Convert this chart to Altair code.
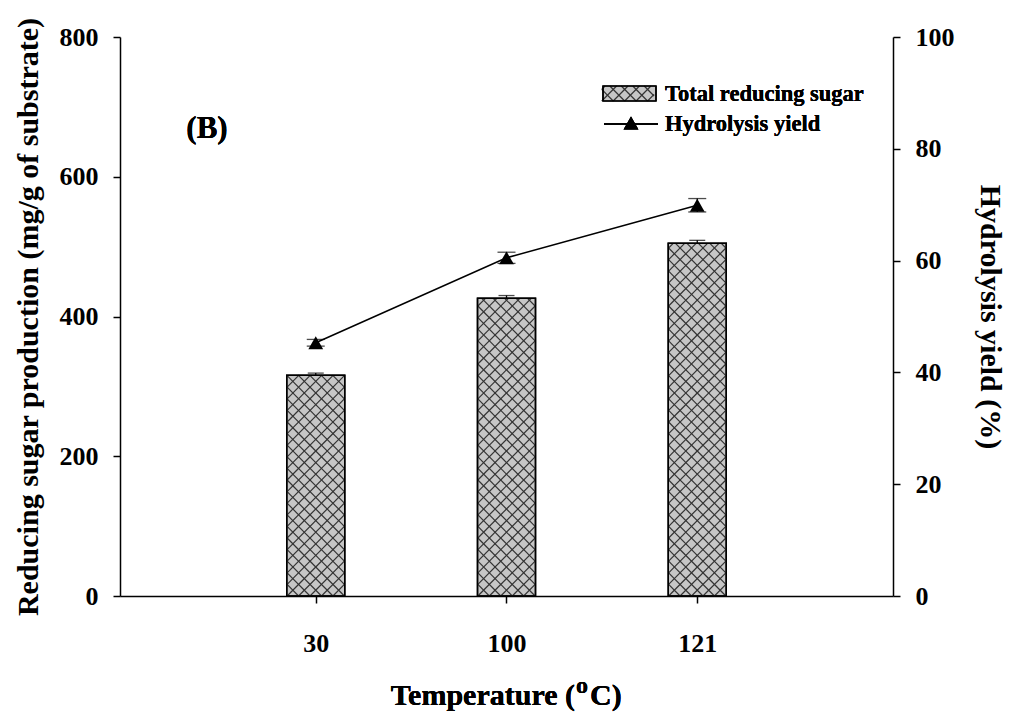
import altair as alt
import pandas as pd

# ---------------- data ----------------
temps = ["30", "100", "121"]
sugar = [316, 426, 505]
sugar_err = [3, 4, 4]
yield_pct = [45.3, 60.5, 69.9]
yield_err = [0.6, 1.0, 1.2]

# ---------------- geometry ----------------
W, H = 773, 559
XMAX, YMAX, Y2MAX = 4, 800, 100
PX_X = W / XMAX
PX_Y = H / YMAX
BAR_W = 58
SPACING = 11.6
FONT = "Liberation Serif"

pos = [i + 1 for i in range(len(temps))]
bars = pd.DataFrame({"pos": pos, "temp": temps, "sugar": sugar,
                     "err": sugar_err,
                     "top": [s + e for s, e in zip(sugar, sugar_err)]})
line = pd.DataFrame({"pos": pos, "temp": temps, "yield": yield_pct,
                     "lo": [y - e for y, e in zip(yield_pct, yield_err)],
                     "hi": [y + e for y, e in zip(yield_pct, yield_err)]})


def hatch(x0, x1, yt, yb, s):
    """diagonal cross-hatch clipped to a pixel rectangle -> data coords"""
    segs = []
    n = int((x1 - x0 + yb - yt) / s) + 2
    for k in range(-n, n + 1):
        c = x0 + yb + k * s
        xa, xb = max(x0, c - yb), min(x1, c - yt)
        if xb > xa:
            segs.append((xa, c - xa, xb, c - xb))
        c = x0 - yb + k * s
        xa, xb = max(x0, c + yt), min(x1, c + yb)
        if xb > xa:
            segs.append((xa, xa - c, xb, xb - c))
    return [{"x": a / PX_X, "y": (H - b) / PX_Y,
             "x2": c2 / PX_X, "y2": (H - d) / PX_Y} for a, b, c2, d in segs]


rows = []
for p, v in zip(pos, sugar):
    cx = p * PX_X
    rows += hatch(cx - BAR_W / 2, cx + BAR_W / 2, H - v * PX_Y, H, SPACING)
# legend swatch
LX0, LX1, LY0, LY1 = 483, 536, 49, 64
rows += hatch(LX0, LX1, LY0, LY1, SPACING)
hatch_df = pd.DataFrame(rows)

xscale = alt.Scale(domain=[0, XMAX], nice=False, zero=False)
yscale = alt.Scale(domain=[0, YMAX], nice=False)
y2scale = alt.Scale(domain=[0, Y2MAX], nice=False)

label_expr = "datum.value == 1 ? '30' : datum.value == 2 ? '100' : datum.value == 3 ? '121' : ''"

xaxis = alt.Axis(values=[1, 2, 3], labelExpr=label_expr, title="",
                 grid=False, tickSize=7, labelPadding=27,
                 labelFontSize=26)
yaxis = alt.Axis(values=[0, 200, 400, 600, 800], grid=False, tickSize=7,
                 labelPadding=15, titlePadding=16, labelFontSize=26, titleFontSize=30,
                 title="Reducing sugar production (mg/g of substrate)")
y2axis = alt.Axis(values=[0, 20, 40, 60, 80, 100], orient="right", grid=False,
                  tickSize=7, labelPadding=15, titlePadding=20, labelFontSize=26,
                  titleFontSize=30, title="Hydrolysis yield (%)")

base_b = alt.Chart(bars)
bar_mark = base_b.mark_bar(size=BAR_W, color="#c6c6c6", stroke="black",
                           strokeWidth=1.5).encode(
    x=alt.X("pos:Q", scale=xscale, axis=xaxis),
    y=alt.Y("sugar:Q", scale=yscale, axis=yaxis))

hatch_mark = alt.Chart(hatch_df).mark_rule(color="#333333", strokeWidth=1.2).encode(
    x=alt.X("x:Q", scale=xscale), y=alt.Y("y:Q", scale=yscale),
    x2="x2:Q", y2="y2:Q")

bar_outline = base_b.mark_bar(size=BAR_W, fillOpacity=0, stroke="black",
                              strokeWidth=1.5).encode(
    x=alt.X("pos:Q", scale=xscale), y=alt.Y("sugar:Q", scale=yscale))

bar_err = base_b.mark_rule(color="black", strokeWidth=1.3).encode(
    x=alt.X("pos:Q", scale=xscale), y=alt.Y("sugar:Q", scale=yscale), y2="top:Q")
bar_cap = base_b.mark_tick(color="black", orient="horizontal", size=16,
                           thickness=1.3).encode(
    x=alt.X("pos:Q", scale=xscale), y=alt.Y("top:Q", scale=yscale))

# x-axis title with a raised "o"
def txt(t, x, y, size, align):
    return alt.Chart(bars).mark_text(text=t, align=align, baseline="alphabetic",
                                     font=FONT, fontWeight="bold", fontSize=size,
                                     color="black").encode(x=alt.value(x), y=alt.value(y))

xt1 = txt("Temperature (", 455, 668, 30, "right")
xt2 = txt("o", 456, 656, 24, "left")
xt3 = txt("C)", 470, 668, 30, "left")

# legend
leg_box = alt.Chart(bars).mark_rect(fillOpacity=0, stroke="black", strokeWidth=1.2).encode(
    x=alt.value(LX0), x2=alt.value(LX1), y=alt.value(LY0), y2=alt.value(LY1))
leg_box_fill = alt.Chart(bars).mark_rect(color="#c6c6c6").encode(
    x=alt.value(LX0), x2=alt.value(LX1), y=alt.value(LY0), y2=alt.value(LY1))
leg_line = alt.Chart(bars).mark_rule(color="black", strokeWidth=1.5).encode(
    x=alt.value(484), x2=alt.value(538), y=alt.value(87))
leg_tri = alt.Chart(bars).mark_point(shape="triangle-up", filled=True, color="black",
                                     size=220, opacity=1).encode(
    x=alt.value(511), y=alt.value(86))
leg_t1 = alt.Chart(bars).mark_text(text="Total reducing sugar", align="left",
                                   baseline="middle", font=FONT, fontWeight="bold",
                                   fontSize=22.5, color="black").encode(
    x=alt.value(545), y=alt.value(57))
leg_t2 = alt.Chart(bars).mark_text(text="Hydrolysis yield", align="left",
                                   baseline="middle", font=FONT, fontWeight="bold",
                                   fontSize=22.5, color="black").encode(
    x=alt.value(545), y=alt.value(87))
panel = alt.Chart(bars).mark_text(text="(B)", align="center", baseline="middle",
                                  font=FONT, fontWeight="bold", fontSize=31,
                                  color="black").encode(
    x=alt.value(87), y=alt.value(92))

left = alt.layer(leg_box_fill, bar_mark, hatch_mark, bar_outline, bar_err, bar_cap,
                 leg_box, leg_line, leg_tri, leg_t1, leg_t2, panel, xt1, xt2, xt3)

base_l = alt.Chart(line)
ln = base_l.mark_line(color="black", strokeWidth=1.5).encode(
    x=alt.X("pos:Q", scale=xscale),
    y=alt.Y("yield:Q", scale=y2scale, axis=y2axis))
ln_err = base_l.mark_rule(color="black", strokeWidth=1.3).encode(
    x=alt.X("pos:Q", scale=xscale), y=alt.Y("lo:Q", scale=y2scale), y2="hi:Q")
ln_cap_hi = base_l.mark_tick(color="black", orient="horizontal", size=18,
                             thickness=1.3).encode(
    x=alt.X("pos:Q", scale=xscale), y=alt.Y("hi:Q", scale=y2scale))
ln_cap_lo = base_l.mark_tick(color="black", orient="horizontal", size=18,
                             thickness=1.3).encode(
    x=alt.X("pos:Q", scale=xscale), y=alt.Y("lo:Q", scale=y2scale))
ln_pts = base_l.mark_point(shape="triangle-up", filled=True, color="black",
                           size=220, opacity=1).encode(
    x=alt.X("pos:Q", scale=xscale), y=alt.Y("yield:Q", scale=y2scale))

right = alt.layer(ln, ln_err, ln_cap_hi, ln_cap_lo, ln_pts)

chart = alt.layer(left, right).resolve_scale(y="independent").properties(
    width=W, height=H,
    background="white",
    autosize=alt.AutoSizeParams(type="none"),
    padding={"left": 120, "top": 37, "right": 118, "bottom": 121},
).configure_view(stroke=None).configure_axis(
    labelFont=FONT, titleFont=FONT, labelFontWeight="bold", titleFontWeight="bold",
    labelColor="black", titleColor="black", domainColor="black", tickColor="black",
    domainWidth=1.5, tickWidth=1.5,
)

chart.save("out.html", embed_options={"renderer": "svg", "actions": False})
